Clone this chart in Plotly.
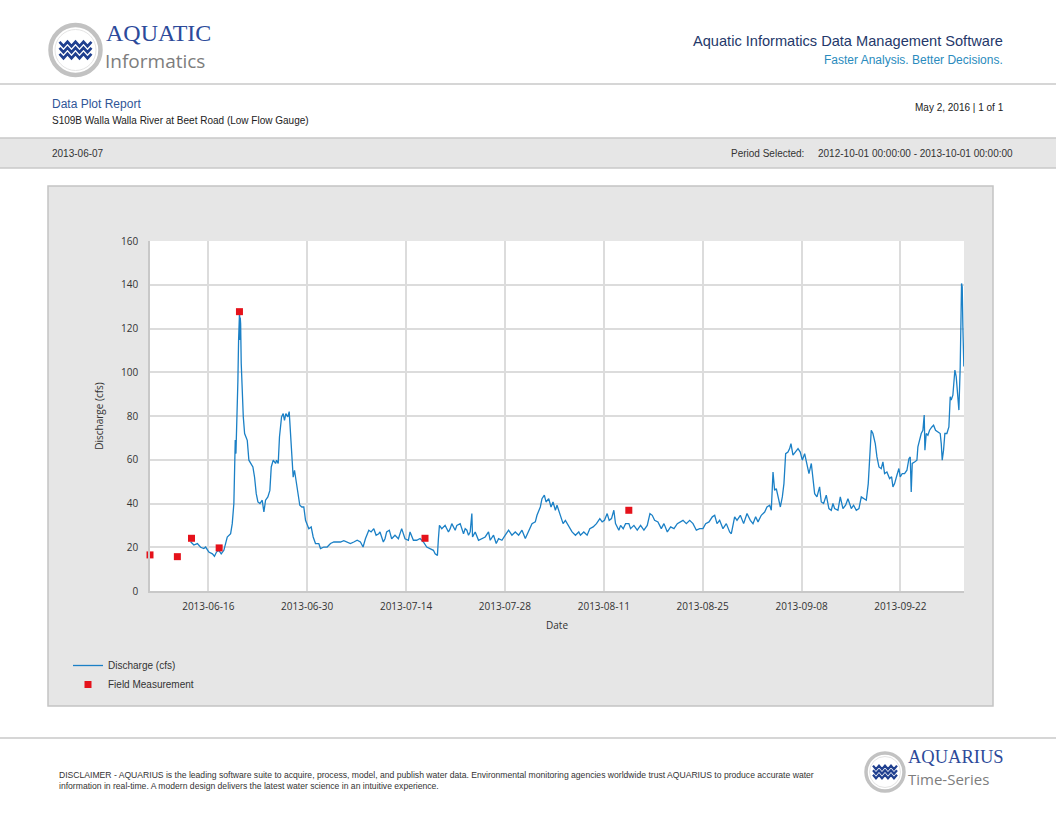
import plotly.graph_objects as go

W, H = 1056, 816

# ---------------- data ----------------
dis_time = [
    "2013-06-13 12:00", "2013-06-13 23:00", "2013-06-14 11:00", "2013-06-14 22:00", "2013-06-15 09:00",
    "2013-06-15 15:00", "2013-06-16 02:00", "2013-06-16 14:00", "2013-06-16 21:00", "2013-06-17 04:00",
    "2013-06-17 12:00", "2013-06-17 20:00", "2013-06-18 05:00", "2013-06-18 11:00", "2013-06-18 16:30",
    "2013-06-19 04:00", "2013-06-19 09:30", "2013-06-19 15:00", "2013-06-19 17:30", "2013-06-19 19:40",
    "2013-06-19 22:00", "2013-06-20 00:10", "2013-06-20 02:30", "2013-06-20 04:40", "2013-06-20 07:00",
    "2013-06-20 08:00", "2013-06-20 10:30", "2013-06-20 11:30", "2013-06-20 12:40", "2013-06-20 14:00",
    "2013-06-20 16:00", "2013-06-20 19:30", "2013-06-20 23:00", "2013-06-21 03:30", "2013-06-21 07:00",
    "2013-06-21 12:30", "2013-06-21 18:00", "2013-06-21 23:40", "2013-06-22 07:40", "2013-06-22 13:20",
    "2013-06-22 19:00", "2013-06-23 00:40", "2013-06-23 07:30", "2013-06-23 15:20", "2013-06-23 21:00",
    "2013-06-24 02:40", "2013-06-24 10:30", "2013-06-24 17:20", "2013-06-24 22:00", "2013-06-25 04:40",
    "2013-06-25 09:10", "2013-06-25 12:40", "2013-06-25 16:00", "2013-06-25 21:40", "2013-06-26 02:00",
    "2013-06-26 05:30", "2013-06-26 09:00", "2013-06-26 14:40", "2013-06-26 19:00", "2013-06-26 23:40",
    "2013-06-27 06:30", "2013-06-27 11:00", "2013-06-27 15:30", "2013-06-27 20:00", "2013-06-28 00:30",
    "2013-06-28 05:00", "2013-06-28 11:50", "2013-06-28 16:30", "2013-06-28 23:00", "2013-06-29 06:00",
    "2013-06-29 12:40", "2013-06-29 18:30", "2013-06-30 00:00", "2013-06-30 05:40", "2013-06-30 13:40",
    "2013-06-30 20:30", "2013-07-01 04:20", "2013-07-01 15:40", "2013-07-01 21:20", "2013-07-02 08:40",
    "2013-07-02 20:00", "2013-07-03 07:20", "2013-07-03 18:40", "2013-07-04 06:00", "2013-07-04 17:10",
    "2013-07-05 04:30", "2013-07-05 16:00", "2013-07-06 03:00", "2013-07-06 14:30", "2013-07-07 02:00",
    "2013-07-07 13:00", "2013-07-07 22:00", "2013-07-08 06:00", "2013-07-08 17:30", "2013-07-09 01:20",
    "2013-07-09 10:30", "2013-07-09 18:20", "2013-07-10 03:20",
    "2013-07-10 07:30", "2013-07-10 18:50", "2013-07-11 00:30", "2013-07-11 06:10", "2013-07-11 15:10",
    "2013-07-11 23:10", "2013-07-12 10:30", "2013-07-12 22:00", "2013-07-13 09:10", "2013-07-13 20:30",
    "2013-07-14 08:00", "2013-07-14 13:40", "2013-07-15 01:00", "2013-07-15 12:20", "2013-07-15 23:40",
    "2013-07-16 11:00", "2013-07-16 22:20", "2013-07-17 09:40", "2013-07-17 21:00", "2013-07-18 02:50",
    "2013-07-18 10:40", "2013-07-18 14:00", "2013-07-18 17:30", "2013-07-19 01:30", "2013-07-19 12:50",
    "2013-07-20 00:10", "2013-07-20 06:00", "2013-07-20 11:30", "2013-07-20 23:00", "2013-07-21 04:40",
    "2013-07-21 16:00", "2013-07-22 03:20", "2013-07-22 09:00", "2013-07-22 14:40", "2013-07-22 20:20",
    "2013-07-23 02:00", "2013-07-23 07:40", "2013-07-23 10:00", "2013-07-23 19:00", "2013-07-24 06:20",
    "2013-07-24 17:40", "2013-07-25 05:00", "2013-07-25 16:20", "2013-07-25 22:00", "2013-07-26 09:20",
    "2013-07-26 18:30", "2013-07-27 02:30", "2013-07-27 13:50", "2013-07-28 01:10", "2013-07-28 12:30",
    "2013-07-28 23:50", "2013-07-29 11:10", "2013-07-29 22:40", "2013-07-30 10:00", "2013-07-30 21:20",
    "2013-07-31 08:40", "2013-07-31 20:00", "2013-08-01 07:20", "2013-08-01 13:00", "2013-08-02 00:20",
    "2013-08-02 06:00", "2013-08-02 14:00", "2013-08-02 19:40", "2013-08-03 04:50", "2013-08-03 12:40",
    "2013-08-03 19:30", "2013-08-04 03:30", "2013-08-04 09:00", "2013-08-04 20:30", "2013-08-05 05:40",
    "2013-08-05 13:30", "2013-08-06 00:50", "2013-08-06 12:10", "2013-08-06 23:40", "2013-08-07 11:00",
    "2013-08-07 16:40", "2013-08-08 04:00", "2013-08-08 15:20", "2013-08-09 00:30", "2013-08-09 11:50",
    "2013-08-09 23:10", "2013-08-10 10:30", "2013-08-10 18:30", "2013-08-11 02:20", "2013-08-11 11:30",
    "2013-08-11 18:20", "2013-08-12 02:10", "2013-08-12 10:10", "2013-08-12 15:50", "2013-08-13 03:10",
    "2013-08-13 09:00", "2013-08-13 18:00", "2013-08-14 02:00", "2013-08-14 13:10", "2013-08-14 19:00",
    "2013-08-15 06:20", "2013-08-15 17:40", "2013-08-16 05:00", "2013-08-16 16:20", "2013-08-17 03:40",
    "2013-08-17 12:50", "2013-08-17 20:40", "2013-08-18 04:40", "2013-08-18 16:00", "2013-08-19 03:20",
    "2013-08-19 12:30", "2013-08-19 23:50", "2013-08-20 11:10", "2013-08-20 22:30", "2013-08-21 09:50",
    "2013-08-21 21:10",
    "2013-08-22 05:10", "2013-08-22 16:30", "2013-08-23 03:50", "2013-08-23 15:10", "2013-08-24 02:30",
    "2013-08-24 13:50", "2013-08-25 01:00", "2013-08-25 10:10", "2013-08-25 21:30", "2013-08-26 08:50",
    "2013-08-26 16:50", "2013-08-27 00:40", "2013-08-27 09:40", "2013-08-27 21:00", "2013-08-28 08:20",
    "2013-08-28 19:40", "2013-08-29 01:20", "2013-08-29 12:40", "2013-08-29 20:40", "2013-08-30 08:00",
    "2013-08-30 19:10", "2013-08-31 06:40", "2013-08-31 18:00", "2013-09-01 03:00", "2013-09-01 12:00",
    "2013-09-01 20:00", "2013-09-02 07:10", "2013-09-02 18:40", "2013-09-03 02:30", "2013-09-03 11:40",
    "2013-09-03 17:10", "2013-09-03 23:00", "2013-09-04 04:30", "2013-09-04 10:10", "2013-09-04 16:00",
    "2013-09-05 00:00", "2013-09-05 06:40", "2013-09-05 12:10", "2013-09-05 18:00", "2013-09-06 01:50",
    "2013-09-06 07:30", "2013-09-06 12:00", "2013-09-06 18:50", "2013-09-07 04:00", "2013-09-07 12:00",
    "2013-09-07 19:40", "2013-09-08 02:30", "2013-09-08 10:30", "2013-09-08 18:20", "2013-09-09 01:10",
    "2013-09-09 09:10", "2013-09-09 14:40", "2013-09-09 20:30", "2013-09-10 04:20", "2013-09-10 13:20",
    "2013-09-10 19:00", "2013-09-11 03:00", "2013-09-11 12:00", "2013-09-11 21:00", "2013-09-12 05:00",
    "2013-09-12 10:40", "2013-09-12 16:20", "2013-09-13 03:40", "2013-09-13 11:40", "2013-09-13 20:40",
    "2013-09-14 05:40", "2013-09-14 13:40", "2013-09-15 01:00", "2013-09-15 08:50", "2013-09-15 18:00",
    "2013-09-16 03:00", "2013-09-16 11:00", "2013-09-16 18:50", "2013-09-17 04:00", "2013-09-17 10:40",
    "2013-09-17 15:10", "2013-09-17 20:50", "2013-09-18 02:30", "2013-09-18 10:30", "2013-09-18 16:10",
    "2013-09-18 23:00", "2013-09-19 06:50", "2013-09-19 12:30", "2013-09-19 18:10", "2013-09-20 02:00",
    "2013-09-20 11:10", "2013-09-20 18:00", "2013-09-20 22:30", "2013-09-21 04:10", "2013-09-21 12:00",
    "2013-09-21 18:50", "2013-09-21 23:20", "2013-09-22 06:10", "2013-09-22 14:00", "2013-09-22 22:00",
    "2013-09-23 04:50", "2013-09-23 09:20", "2013-09-23 12:40", "2013-09-23 16:10", "2013-09-24 00:00",
    "2013-09-24 08:00", "2013-09-24 11:20", "2013-09-24 17:00", "2013-09-24 22:40", "2013-09-25 04:20",
    "2013-09-25 08:50", "2013-09-25 11:10", "2013-09-25 15:40", "2013-09-25 21:20", "2013-09-26 03:00",
    "2013-09-26 10:50", "2013-09-26 16:40", "2013-09-26 23:20", "2013-09-27 07:20", "2013-09-27 15:10",
    "2013-09-27 18:40", "2013-09-27 22:00", "2013-09-28 02:30", "2013-09-28 07:00", "2013-09-28 13:50",
    "2013-09-28 20:40", "2013-09-29 01:10", "2013-09-29 04:30", "2013-09-29 10:10", "2013-09-29 17:00",
    "2013-09-29 21:30", "2013-09-30 02:00", "2013-09-30 06:40", "2013-09-30 11:10", "2013-09-30 15:40",
    "2013-09-30 18:00", "2013-09-30 20:10", "2013-09-30 23:30",
]
dis_cfs = [
    22.5, 21.0, 21.7, 20.0, 19.4,
    20.1, 17.8, 17.0, 15.9, 17.8,
    18.6, 17.0, 18.6, 22.4, 24.7,
    26.2, 30.8, 40.0, 58.0, 69.0,
    62.8, 73.5, 79.6, 96.0, 114.7,
    127.7, 128.4, 114.7, 125.0, 122.0,
    104.0, 88.8, 79.6, 72.0, 70.5,
    68.9, 59.8, 58.3, 56.7, 52.0,
    44.5, 40.7, 40.0, 41.5, 36.1,
    41.5, 43.0, 46.0, 56.7, 59.8,
    59.0, 58.3, 59.8, 58.3, 70.5,
    75.0, 79.6, 81.1, 78.0, 81.1,
    79.6, 82.0, 70.5, 58.3, 52.0,
    55.2, 49.0, 44.5, 39.2, 38.4,
    38.4, 32.3, 30.0, 28.5, 29.3,
    24.7, 21.7, 21.7, 19.4, 20.1,
    20.1, 21.7, 22.4, 22.4, 22.4,
    23.0, 22.4, 21.7, 22.4, 23.2,
    22.4, 20.1, 23.9, 27.8, 27.0,
    28.5, 25.5, 26.2,
    27.0, 22.4, 23.9, 27.0, 27.8,
    23.9, 25.5, 23.9, 28.5, 23.9,
    23.2, 27.0, 23.2, 23.2, 24.0,
    22.4, 20.1, 19.4, 18.6, 17.0,
    16.3, 23.9, 30.0, 28.5, 30.0,
    27.0, 28.5, 30.8, 27.8, 30.0,
    30.8, 26.2, 28.5, 27.8, 25.5,
    27.0, 35.4, 24.7, 27.0, 23.2,
    23.9, 24.7, 27.0, 23.2, 25.5,
    21.7, 23.9, 23.2, 25.5, 27.8,
    25.5, 27.0, 25.5, 27.8, 24.0,
    27.8, 30.8, 31.6, 34.6, 38.4,
    42.2, 43.8, 40.7, 42.2, 38.4,
    40.7, 36.9, 39.2, 33.9, 30.8,
    32.3, 29.3, 27.0, 25.5, 27.0,
    25.5, 27.0, 25.5, 28.5, 29.3,
    30.8, 33.1, 31.6, 32.3, 35.4,
    32.3, 33.1, 36.9, 30.8, 27.8,
    30.0, 28.5, 30.8, 30.8, 28.5,
    30.0, 27.8, 30.0, 27.8, 30.0,
    35.4, 34.6, 32.3, 31.6, 28.5,
    30.8, 27.0, 29.3, 28.5, 30.8,
    31.6,
    32.3, 30.8, 32.3, 30.8, 27.8,
    28.5, 28.5, 30.8, 31.6, 33.9,
    34.6, 30.8, 32.3, 28.5, 30.8,
    27.0, 26.2, 33.9, 32.3, 34.6,
    30.8, 35.4, 32.3, 30.8, 33.9,
    31.6, 34.6, 36.1, 38.4, 39.2,
    36.9, 54.4, 46.0, 46.8, 43.0,
    38.4, 43.0, 49.1, 62.8, 63.5,
    65.1, 67.4, 62.1, 63.5, 65.1,
    63.5, 59.8, 62.8, 58.3, 53.7,
    58.3, 52.2, 44.5, 43.0, 47.6,
    40.7, 40.0, 43.8, 37.7, 36.9,
    40.0, 37.7, 36.9, 43.0, 37.7,
    39.2, 42.2, 37.7, 39.2, 36.9,
    37.7, 43.0, 42.2, 41.5, 49.1,
    58.3, 73.5, 72.0, 67.4, 61.3,
    56.7, 55.9, 59.0, 53.7, 54.4,
    51.4, 52.2, 47.6, 49.1, 52.9,
    56.0, 52.2, 53.7, 53.7, 55.2,
    60.5, 61.3, 45.3, 58.3, 59.0,
    59.8, 65.9, 68.9, 72.0, 73.5,
    80.4, 64.4, 72.0, 71.2, 73.5,
    75.0, 75.8, 73.5, 72.7, 72.0,
    67.4, 59.8, 64.4, 72.0, 72.0,
    75.0, 88.8, 87.3, 89.5, 101.0,
    98.0, 92.0, 82.7, 102.6, 140.6,
    139.0, 120.8, 102.6,
]

fm_time = ["2013-06-07 18:00", "2013-06-11 15:00", "2013-06-13 15:00", "2013-06-17 13:00",
           "2013-06-20 10:00", "2013-07-16 16:30", "2013-08-14 13:00"]
fm_cfs = [16.5, 15.7, 24.1, 19.7, 127.7, 24.1, 36.9]

y_ticks = [0, 20, 40, 60, 80, 100, 120, 140, 160]
x_range = ["2013-06-07 18:00", "2013-10-01 00:00"]

# ---------------- layout geometry (page pixels) ----------------
PL, PR, PT, PB = 150, 964, 241, 591      # plot area edges


def px(x):
    return (x - PL) / (PR - PL)


def py(y):
    return (PB - y) / (PB - PT)


NARROW = "Liberation Sans Narrow, Arial Narrow, Liberation Sans, sans-serif"
CHART = "Open Sans, Noto Sans, sans-serif"
SERIF = "Liberation Serif, DejaVu Serif, serif"
LOGO_SANS = "Open Sans, Noto Sans, sans-serif"

fig = go.Figure()
fig.add_trace(go.Scatter(
    x=dis_time, y=dis_cfs, mode="lines", name="Discharge (cfs)",
    line=dict(color="#1b80c6", width=1.3),
))
fig.add_trace(go.Scatter(
    x=fm_time, y=fm_cfs, mode="markers", name="Field Measurement",
    marker=dict(symbol="square", size=7, color="#e5121b"), cliponaxis=False,
))

shapes = []
X0, X1 = px(0), px(W)
# header separator
shapes.append(dict(type="line", xref="paper", yref="paper", x0=X0, x1=X1, y0=py(84), y1=py(84),
                   line=dict(color="#c8c8c8", width=1.5)))
# grey info band
shapes.append(dict(type="rect", xref="paper", yref="paper", x0=X0, x1=X1, y0=py(168), y1=py(138),
                   fillcolor="#e6e6e6", line=dict(width=0), layer="below"))
for yy in (138, 168):
    shapes.append(dict(type="line", xref="paper", yref="paper", x0=X0, x1=X1, y0=py(yy), y1=py(yy),
                       line=dict(color="#c8c8c8", width=1.5)))
# chart box
shapes.append(dict(type="rect", xref="paper", yref="paper", x0=px(48), x1=px(993), y0=py(706), y1=py(186),
                   fillcolor="#e6e6e6", line=dict(color="#c4c4c4", width=1.5), layer="below"))
# plot area white
shapes.append(dict(type="rect", xref="paper", yref="paper", x0=0, x1=1, y0=0, y1=1,
                   fillcolor="#ffffff", line=dict(width=0), layer="below"))
# footer separator
shapes.append(dict(type="line", xref="paper", yref="paper", x0=X0, x1=X1, y0=py(738), y1=py(738),
                   line=dict(color="#c8c8c8", width=1.5)))


def logo(cx, cy, r, ring_w, wave_half, wave_amp, wave_gap, wave_w):
    out = []
    out.append(dict(type="circle", xref="paper", yref="paper", x0=px(cx - r), x1=px(cx + r),
                    y0=py(cy + r), y1=py(cy - r), fillcolor="#ffffff",
                    line=dict(color="#c2c2c2", width=ring_w)))
    out.append(dict(type="circle", xref="paper", yref="paper", x0=px(cx - r + ring_w), x1=px(cx + r - ring_w),
                    y0=py(cy + r - ring_w), y1=py(cy - r + ring_w), fillcolor="rgba(0,0,0,0)",
                    line=dict(color="#e4e4e4", width=1)))
    for k in (-1, 0, 1):
        yc = cy + k * wave_gap
        n = 8
        step = 2 * wave_half / n
        pts = []
        for i in range(n + 1):
            xx = cx - wave_half + i * step
            yy = yc + (wave_amp if i % 2 else -wave_amp)
            pts.append((xx, yy))
        path = "M " + " L ".join(f"{px(a):.5f},{py(b):.5f}" for a, b in pts)
        out.append(dict(type="path", xref="paper", yref="paper", path=path,
                        line=dict(color="#1f3f8f", width=wave_w)))
    return out


shapes += logo(75.5, 50, 25, 4.5, 16, 2.2, 6, 2.6)
shapes += logo(885, 772, 19, 3.5, 12, 1.8, 4.6, 2.2)

ann = []


def txt(s, x, y, size, color, family=NARROW, xa="left", ya="middle", align="left", pad=1):
    ann.append(dict(text=s, x=px(x), y=py(y), xref="paper", yref="paper", xanchor=xa, yanchor=ya,
                    showarrow=False, align=align, borderpad=pad,
                    font=dict(size=size, color=color, family=family)))


# logo texts
txt("AQUATIC", 105, 47, 24, "#2c4a9a", family=SERIF, ya="bottom", pad=0)
txt("Informatics", 104, 47, 19, "#7d7d7d", family=LOGO_SANS, ya="top", pad=0)
txt("AQUARIUS", 907, 768, 18.5, "#2c4a9a", family=SERIF, ya="bottom", pad=0)
txt("Time-Series", 907, 768, 15, "#7d7d7d", family=LOGO_SANS, ya="top", pad=0)

# header right
txt("Aquatic Informatics Data Management Software", 1005, 41, 14.6, "#24386a", xa="right")
txt("Faster Analysis. Better Decisions.", 1005, 60, 12, "#2a8bbd", xa="right")

# report line
txt("Data Plot Report", 50, 104, 12, "#2f5597")
txt("S109B Walla Walla River at Beet Road (Low Flow Gauge)", 50, 120, 10, "#222222")
txt("May 2, 2016 | 1 of 1", 1006, 107, 10, "#222222", xa="right")

# band
txt("2013-06-07", 50, 153, 10, "#333333")
txt("Period Selected:", 729, 153, 10, "#333333")
txt("2012-10-01 00:00:00 - 2013-10-01 00:00:00", 1015, 153, 10, "#333333", xa="right")

# disclaimer
txt("DISCLAIMER - AQUARIUS is the leading software suite to acquire, process, model, and publish water data. "
    "Environmental monitoring agencies worldwide trust AQUARIUS to produce accurate water<br>"
    "information in real-time. A modern design delivers the latest water science in an intuitive experience.",
    57, 780, 8.6, "#333333")

fig.update_layout(
    width=W, height=H,
    margin=dict(l=PL, r=W - PR, t=PT, b=H - PB, autoexpand=False),
    paper_bgcolor="#ffffff", plot_bgcolor="#ffffff",
    shapes=shapes, annotations=ann,
    showlegend=True,
    legend=dict(x=px(68), y=py(651), xanchor="left", yanchor="top", bgcolor="rgba(0,0,0,0)",
                font=dict(size=10, color="#333333", family=NARROW), tracegroupgap=0, itemwidth=30),
    font=dict(family=CHART, color="#333333"),
)
fig.update_xaxes(
    type="date", range=x_range, tick0="2013-06-16", dtick=14 * 86400000, tickformat="%Y-%m-%d",
    showgrid=True, gridcolor="#dcdcdc", gridwidth=1.5, showline=True, linecolor="#c8c8c8", linewidth=1.5,
    ticks="outside", ticklen=5, tickcolor="rgba(0,0,0,0)", tickfont=dict(size=10, color="#333333"),
    title=dict(text="Date", font=dict(size=10, color="#333333"), standoff=10), zeroline=False,
)
fig.update_yaxes(
    range=[0, 160], tickvals=y_ticks,
    showgrid=True, gridcolor="#dcdcdc", gridwidth=1.5, showline=True, linecolor="#c8c8c8", linewidth=1.5,
    ticks="outside", ticklen=8, tickcolor="rgba(0,0,0,0)", tickfont=dict(size=10, color="#333333"),
    title=dict(text="Discharge (cfs)", font=dict(size=10, color="#333333"), standoff=16), zeroline=False,
)

fig.write_html("out.html", config={"displayModeBar": False},
               post_script="document.body.style.margin='0';")
